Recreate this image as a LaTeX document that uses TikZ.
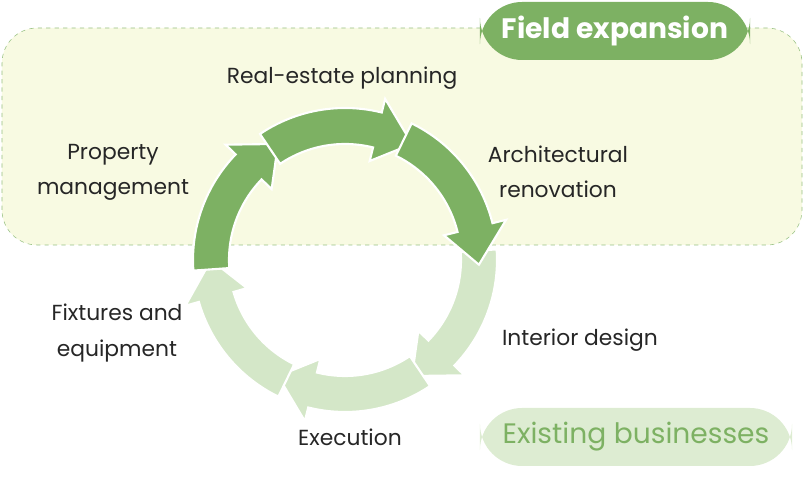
\documentclass[tikz,border=0pt]{standalone}
\usepackage{fontspec}
\setmainfont{Poppins}
\usetikzlibrary{positioning,calc}
\definecolor{darkgreen}{HTML}{7DB163}
\definecolor{lightgreen}{HTML}{D4E7C8}
\definecolor{areafill}{HTML}{F8FAE2}
\definecolor{pillfill}{HTML}{DDECD2}
\tikzset{
  label/.style={font=\fontsize{15.5}{25}\selectfont, align=center, text=black!85},
  pill/.style={rounded corners=30, minimum height=1.45cm, inner sep=0pt},
  ringarrow/.style={draw=white, line width=1.5pt, line join=miter}
}
% ring arrow: #1 colour, #2 start angle, #3 end angle
\newcommand{\ringarr}[3]{%
  \fill[#1, ringarrow] ($(c)+(#2:152)$) arc[start angle=#2, end angle=#3+16, radius=152]
    -- ($(c)+(#3+16:166)$) -- ($(c)+(#3:134)$) -- ($(c)+(#3+16:102)$)
    -- ($(c)+(#3+16:116)$) arc[start angle=#3+16, end angle=#2, radius=116] -- cycle;}
\begin{document}
\begin{tikzpicture}[x=0.025cm, y=0.025cm]
\useasboundingbox (0,0) rectangle (804,477);
% field expansion area
\draw[darkgreen!80, dashed, fill=areafill, rounded corners=25] (2,232) rectangle (802,449);
\node[pill, fill=darkgreen, minimum width=6.75cm, text=white, font=\fontsize{20}{24}\selectfont\bfseries] (field) at (615,446) {Field expansion};
\node[pill, fill=pillfill, minimum width=7.8cm, text=darkgreen, font=\fontsize{20}{24}\selectfont] (exist) at (636,40) {Existing businesses};
% cycle
\coordinate (c) at (345,217);
\ringarr{lightgreen}{4}{-60}
\ringarr{lightgreen}{-56}{-120}
\ringarr{lightgreen}{-116}{-180}
\ringarr{darkgreen}{184}{120}
\ringarr{darkgreen}{124}{60}
\ringarr{darkgreen}{64}{-2}
% labels
\node[label] (plan) at (342,399) {Real-estate planning};
\node[label] (prop) at (113,305) {Property\\management};
\node[label] (arch) at (558,305) {Architectural\\renovation};
\node[label] (inter) at (580,137) {Interior design};
\node[label] (fix) at (117,144) {Fixtures and\\equipment};
\node[label] (exec) at (350,40) {Execution};
\end{tikzpicture}
\end{document}
